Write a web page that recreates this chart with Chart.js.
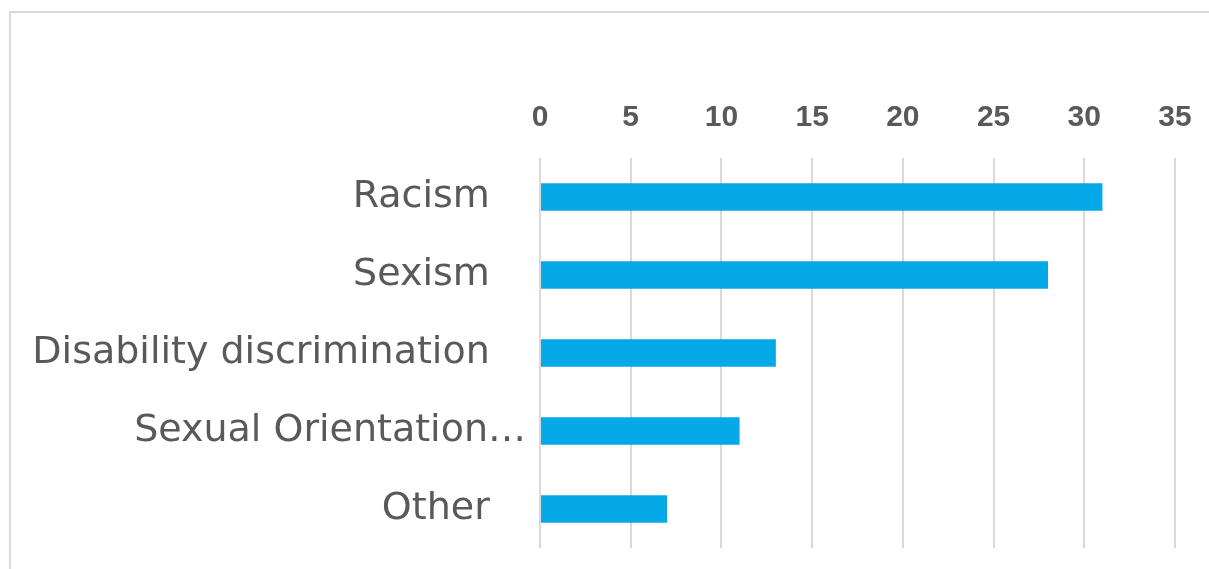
<!DOCTYPE html>
<html>
<head>
<meta charset="utf-8">
<script src="https://cdn.jsdelivr.net/npm/chart.js@4"></script>
<style>
  html, body { margin: 0; padding: 0; background: #fff; overflow: hidden; }
  .frame {
    position: absolute; left: 9px; top: 11px; width: 1400px; height: 800px;
    border-left: 2px solid #d9d9d9; border-top: 2px solid #d9d9d9;
  }
  #wrap { position: absolute; left: 0; top: 0; width: 1209px; height: 569px; }
</style>
</head>
<body>
<div class="frame"></div>
<div id="wrap"><canvas id="chart"></canvas></div>
<script>
// Data
const categories = ['Racism', 'Sexism', 'Disability discrimination', 'Sexual Orientation…', 'Other'];
const counts = [31, 28, 13, 11, 7];
const tickValues = [0, 5, 10, 15, 20, 25, 30, 35];

const textGrey = '#595959';
const gridGrey = '#d9d9d9';

const ctx = document.getElementById('chart').getContext('2d');
new Chart(ctx, {
  type: 'bar',
  data: {
    labels: categories,
    datasets: [
      {
        data: counts,
        backgroundColor: '#06a9e7',
        borderWidth: 0,
        categoryPercentage: 1,
        barPercentage: 0.35,
      },
    ],
  },
  options: {
    indexAxis: 'y',
    responsive: true,
    maintainAspectRatio: false,
    animation: false,
    layout: { padding: { left: 0, right: 34, top: 0, bottom: 21 } },
    plugins: {
      legend: { display: false },
      tooltip: { enabled: false },
    },
    scales: {
      x: {
        position: 'top',
        min: tickValues[0],
        max: tickValues[tickValues.length - 1],
        afterBuildTicks: (scale) => {
          scale.ticks = tickValues.map((v) => ({ value: v }));
        },
        afterFit: (scale) => {
          scale.height = 158;
          scale.paddingLeft = 0;
          scale.paddingRight = 0;
        },
        grid: { color: gridGrey, lineWidth: 2, drawTicks: false },
        border: { display: false },
        ticks: {
          color: textGrey,
          padding: 22,
          font: { family: 'Liberation Sans', size: 30, weight: 'bold' },
        },
      },
      y: {
        afterFit: (scale) => {
          scale.width = 540;
          scale.paddingTop = 0;
          scale.paddingBottom = 0;
        },
        grid: { display: false, drawTicks: false },
        border: { display: false },
        ticks: {
          color: textGrey,
          padding: 14,
          font: { family: 'DejaVu Sans', size: 38 },
          callback: function (value) {
            const label = this.getLabelForValue(value);
            return label.endsWith('…') ? label : label + '   ';
          },
        },
      },
    },
  },
});
</script>
</body>
</html>
